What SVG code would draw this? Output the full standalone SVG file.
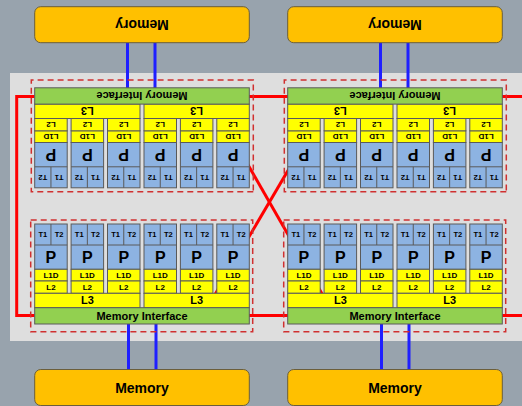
<svg xmlns="http://www.w3.org/2000/svg" width="522" height="406" viewBox="0 0 522 406">
<style>
.bg{fill:#98a3ad}
.panel{fill:#dedede}
.mem{fill:#ffc000;stroke:#6b5e3b;stroke-width:1}
.frame{fill:none;stroke:#d03030;stroke-width:1.5;stroke-dasharray:6 4}
.mi{fill:#92d050;stroke:#5a5a5a;stroke-width:1}
.y{fill:#ffff00;stroke:#5a5a5a;stroke-width:1}
.core{fill:#8db3e2;stroke:#5a5a5a;stroke-width:1}
.div{fill:none;stroke:#5a5a5a;stroke-width:1}
text{font-family:"Liberation Sans",Arial,sans-serif;font-weight:bold;text-anchor:middle;fill:#000}
.t{font-size:7.5px}
.p{font-size:16px}
.c{font-size:8px}
.l{font-size:11px}
.m{font-size:14px}
.link{fill:none;stroke:#ff0000;stroke-width:3}
.bus{stroke:#1f1fff;stroke-width:3}
</style>

<!-- backdrop -->
<rect class="bg" x="0" y="0" width="522" height="406"/>
<rect class="panel" x="10" y="73" width="512" height="268"/>

<!-- connectors: drawn first so the chips sit over them -->
<g id="connectors">
  <path class="link" d="M34.7 315.5 H16.7 V96.5 H34.7"/>
  <path class="link" d="M249 96.5 H288"/>
  <path class="link" d="M502 96.5 H522"/>
  <path class="link" d="M249 315.5 H288"/>
  <path class="link" d="M502 315.5 H522"/>
  <path class="link" d="M210 303 L322 112.8"/>
  <path class="link" d="M217.7 112 L327.3 303"/>
  <line class="bus" x1="127.5" y1="42.7" x2="127.5" y2="88.5"/>
  <line class="bus" x1="155" y1="42.7" x2="155" y2="88.5"/>
  <line class="bus" x1="380.5" y1="42.7" x2="380.5" y2="88.5"/>
  <line class="bus" x1="408" y1="42.7" x2="408" y2="88.5"/>
  <line class="bus" x1="128.5" y1="324" x2="128.5" y2="369.5"/>
  <line class="bus" x1="156" y1="324" x2="156" y2="369.5"/>
  <line class="bus" x1="381.5" y1="324" x2="381.5" y2="369.5"/>
  <line class="bus" x1="409" y1="324" x2="409" y2="369.5"/>
</g>

<!-- memory banks -->
<g id="memory-top-left">
  <rect class="mem" x="34.7" y="6.7" width="214.6" height="36" rx="6"/>
  <text class="m" x="142" y="29.7" transform="rotate(180 142 24.7)">Memory</text>
</g>
<g id="memory-top-right">
  <rect class="mem" x="287.7" y="6.7" width="214.6" height="36" rx="6"/>
  <text class="m" x="395" y="29.7" transform="rotate(180 395 24.7)">Memory</text>
</g>
<g id="memory-bottom-left">
  <rect class="mem" x="34.7" y="369.5" width="214.6" height="36" rx="6"/>
  <text class="m" x="142" y="392.5">Memory</text>
</g>
<g id="memory-bottom-right">
  <rect class="mem" x="287.7" y="369.5" width="214.6" height="36" rx="6"/>
  <text class="m" x="395" y="392.5">Memory</text>
</g>

<!-- processor chips: one layout, placed four times -->
<g id="chip-bottom-left">
  <rect class="frame" x="30.7" y="220" width="222" height="111.7"/>
  <rect class="core" x="34.7" y="224" width="32.5" height="45.3"/>
  <rect class="y" x="34.7" y="269.3" width="32.5" height="11.7"/>
  <rect class="y" x="34.7" y="281" width="32.5" height="12.3"/>
  <path class="div" d="M34.7 245 H67.2 M50.95 224 V245"/>
  <text class="t" x="42.8" y="237.2">T1</text><text class="t" x="59.1" y="237.2">T2</text>
  <text class="p" x="50.95" y="262.9">P</text><text class="c" x="50.95" y="278">L1D</text><text class="c" x="50.95" y="290">L2</text>
  <rect class="core" x="71.1" y="224" width="32.5" height="45.3"/>
  <rect class="y" x="71.1" y="269.3" width="32.5" height="11.7"/>
  <rect class="y" x="71.1" y="281" width="32.5" height="12.3"/>
  <path class="div" d="M71.1 245 H103.6 M87.35 224 V245"/>
  <text class="t" x="79.2" y="237.2">T1</text><text class="t" x="95.5" y="237.2">T2</text>
  <text class="p" x="87.35" y="262.9">P</text><text class="c" x="87.35" y="278">L1D</text><text class="c" x="87.35" y="290">L2</text>
  <rect class="core" x="107.5" y="224" width="32.5" height="45.3"/>
  <rect class="y" x="107.5" y="269.3" width="32.5" height="11.7"/>
  <rect class="y" x="107.5" y="281" width="32.5" height="12.3"/>
  <path class="div" d="M107.5 245 H140 M123.75 224 V245"/>
  <text class="t" x="115.6" y="237.2">T1</text><text class="t" x="131.9" y="237.2">T2</text>
  <text class="p" x="123.75" y="262.9">P</text><text class="c" x="123.75" y="278">L1D</text><text class="c" x="123.75" y="290">L2</text>
  <rect class="core" x="144" y="224" width="32.5" height="45.3"/>
  <rect class="y" x="144" y="269.3" width="32.5" height="11.7"/>
  <rect class="y" x="144" y="281" width="32.5" height="12.3"/>
  <path class="div" d="M144 245 H176.5 M160.25 224 V245"/>
  <text class="t" x="152.1" y="237.2">T1</text><text class="t" x="168.4" y="237.2">T2</text>
  <text class="p" x="160.25" y="262.9">P</text><text class="c" x="160.25" y="278">L1D</text><text class="c" x="160.25" y="290">L2</text>
  <rect class="core" x="180.4" y="224" width="32.5" height="45.3"/>
  <rect class="y" x="180.4" y="269.3" width="32.5" height="11.7"/>
  <rect class="y" x="180.4" y="281" width="32.5" height="12.3"/>
  <path class="div" d="M180.4 245 H212.9 M196.65 224 V245"/>
  <text class="t" x="188.5" y="237.2">T1</text><text class="t" x="204.8" y="237.2">T2</text>
  <text class="p" x="196.65" y="262.9">P</text><text class="c" x="196.65" y="278">L1D</text><text class="c" x="196.65" y="290">L2</text>
  <rect class="core" x="216.8" y="224" width="32.5" height="45.3"/>
  <rect class="y" x="216.8" y="269.3" width="32.5" height="11.7"/>
  <rect class="y" x="216.8" y="281" width="32.5" height="12.3"/>
  <path class="div" d="M216.8 245 H249.3 M233.05 224 V245"/>
  <text class="t" x="224.9" y="237.2">T1</text><text class="t" x="241.2" y="237.2">T2</text>
  <text class="p" x="233.05" y="262.9">P</text><text class="c" x="233.05" y="278">L1D</text><text class="c" x="233.05" y="290">L2</text>
  <rect class="y" x="34.7" y="293.3" width="105.3" height="14.4"/>
  <rect class="y" x="144" y="293.3" width="105.3" height="14.4"/>
  <text class="l" x="87.35" y="304.4">L3</text><text class="l" x="196.65" y="304.4">L3</text>
  <rect class="mi" x="34.7" y="307.7" width="214.6" height="16.3"/>
  <text class="l" x="142" y="319.8">Memory Interface</text>
</g>

<g id="chip-bottom-right" transform="translate(253 0)">
  <rect class="frame" x="30.7" y="220" width="222" height="111.7"/>
  <rect class="core" x="34.7" y="224" width="32.5" height="45.3"/>
  <rect class="y" x="34.7" y="269.3" width="32.5" height="11.7"/>
  <rect class="y" x="34.7" y="281" width="32.5" height="12.3"/>
  <path class="div" d="M34.7 245 H67.2 M50.95 224 V245"/>
  <text class="t" x="42.8" y="237.2">T1</text><text class="t" x="59.1" y="237.2">T2</text>
  <text class="p" x="50.95" y="262.9">P</text><text class="c" x="50.95" y="278">L1D</text><text class="c" x="50.95" y="290">L2</text>
  <rect class="core" x="71.1" y="224" width="32.5" height="45.3"/>
  <rect class="y" x="71.1" y="269.3" width="32.5" height="11.7"/>
  <rect class="y" x="71.1" y="281" width="32.5" height="12.3"/>
  <path class="div" d="M71.1 245 H103.6 M87.35 224 V245"/>
  <text class="t" x="79.2" y="237.2">T1</text><text class="t" x="95.5" y="237.2">T2</text>
  <text class="p" x="87.35" y="262.9">P</text><text class="c" x="87.35" y="278">L1D</text><text class="c" x="87.35" y="290">L2</text>
  <rect class="core" x="107.5" y="224" width="32.5" height="45.3"/>
  <rect class="y" x="107.5" y="269.3" width="32.5" height="11.7"/>
  <rect class="y" x="107.5" y="281" width="32.5" height="12.3"/>
  <path class="div" d="M107.5 245 H140 M123.75 224 V245"/>
  <text class="t" x="115.6" y="237.2">T1</text><text class="t" x="131.9" y="237.2">T2</text>
  <text class="p" x="123.75" y="262.9">P</text><text class="c" x="123.75" y="278">L1D</text><text class="c" x="123.75" y="290">L2</text>
  <rect class="core" x="144" y="224" width="32.5" height="45.3"/>
  <rect class="y" x="144" y="269.3" width="32.5" height="11.7"/>
  <rect class="y" x="144" y="281" width="32.5" height="12.3"/>
  <path class="div" d="M144 245 H176.5 M160.25 224 V245"/>
  <text class="t" x="152.1" y="237.2">T1</text><text class="t" x="168.4" y="237.2">T2</text>
  <text class="p" x="160.25" y="262.9">P</text><text class="c" x="160.25" y="278">L1D</text><text class="c" x="160.25" y="290">L2</text>
  <rect class="core" x="180.4" y="224" width="32.5" height="45.3"/>
  <rect class="y" x="180.4" y="269.3" width="32.5" height="11.7"/>
  <rect class="y" x="180.4" y="281" width="32.5" height="12.3"/>
  <path class="div" d="M180.4 245 H212.9 M196.65 224 V245"/>
  <text class="t" x="188.5" y="237.2">T1</text><text class="t" x="204.8" y="237.2">T2</text>
  <text class="p" x="196.65" y="262.9">P</text><text class="c" x="196.65" y="278">L1D</text><text class="c" x="196.65" y="290">L2</text>
  <rect class="core" x="216.8" y="224" width="32.5" height="45.3"/>
  <rect class="y" x="216.8" y="269.3" width="32.5" height="11.7"/>
  <rect class="y" x="216.8" y="281" width="32.5" height="12.3"/>
  <path class="div" d="M216.8 245 H249.3 M233.05 224 V245"/>
  <text class="t" x="224.9" y="237.2">T1</text><text class="t" x="241.2" y="237.2">T2</text>
  <text class="p" x="233.05" y="262.9">P</text><text class="c" x="233.05" y="278">L1D</text><text class="c" x="233.05" y="290">L2</text>
  <rect class="y" x="34.7" y="293.3" width="105.3" height="14.4"/>
  <rect class="y" x="144" y="293.3" width="105.3" height="14.4"/>
  <text class="l" x="87.35" y="304.4">L3</text><text class="l" x="196.65" y="304.4">L3</text>
  <rect class="mi" x="34.7" y="307.7" width="214.6" height="16.3"/>
  <text class="l" x="142" y="319.8">Memory Interface</text>
</g>

<g id="chip-top-left" transform="rotate(180 142 205.9)">
  <rect class="frame" x="30.7" y="220" width="222" height="111.7"/>
  <rect class="core" x="34.7" y="224" width="32.5" height="45.3"/>
  <rect class="y" x="34.7" y="269.3" width="32.5" height="11.7"/>
  <rect class="y" x="34.7" y="281" width="32.5" height="12.3"/>
  <path class="div" d="M34.7 245 H67.2 M50.95 224 V245"/>
  <text class="t" x="42.8" y="237.2">T1</text><text class="t" x="59.1" y="237.2">T2</text>
  <text class="p" x="50.95" y="262.9">P</text><text class="c" x="50.95" y="278">L1D</text><text class="c" x="50.95" y="290">L2</text>
  <rect class="core" x="71.1" y="224" width="32.5" height="45.3"/>
  <rect class="y" x="71.1" y="269.3" width="32.5" height="11.7"/>
  <rect class="y" x="71.1" y="281" width="32.5" height="12.3"/>
  <path class="div" d="M71.1 245 H103.6 M87.35 224 V245"/>
  <text class="t" x="79.2" y="237.2">T1</text><text class="t" x="95.5" y="237.2">T2</text>
  <text class="p" x="87.35" y="262.9">P</text><text class="c" x="87.35" y="278">L1D</text><text class="c" x="87.35" y="290">L2</text>
  <rect class="core" x="107.5" y="224" width="32.5" height="45.3"/>
  <rect class="y" x="107.5" y="269.3" width="32.5" height="11.7"/>
  <rect class="y" x="107.5" y="281" width="32.5" height="12.3"/>
  <path class="div" d="M107.5 245 H140 M123.75 224 V245"/>
  <text class="t" x="115.6" y="237.2">T1</text><text class="t" x="131.9" y="237.2">T2</text>
  <text class="p" x="123.75" y="262.9">P</text><text class="c" x="123.75" y="278">L1D</text><text class="c" x="123.75" y="290">L2</text>
  <rect class="core" x="144" y="224" width="32.5" height="45.3"/>
  <rect class="y" x="144" y="269.3" width="32.5" height="11.7"/>
  <rect class="y" x="144" y="281" width="32.5" height="12.3"/>
  <path class="div" d="M144 245 H176.5 M160.25 224 V245"/>
  <text class="t" x="152.1" y="237.2">T1</text><text class="t" x="168.4" y="237.2">T2</text>
  <text class="p" x="160.25" y="262.9">P</text><text class="c" x="160.25" y="278">L1D</text><text class="c" x="160.25" y="290">L2</text>
  <rect class="core" x="180.4" y="224" width="32.5" height="45.3"/>
  <rect class="y" x="180.4" y="269.3" width="32.5" height="11.7"/>
  <rect class="y" x="180.4" y="281" width="32.5" height="12.3"/>
  <path class="div" d="M180.4 245 H212.9 M196.65 224 V245"/>
  <text class="t" x="188.5" y="237.2">T1</text><text class="t" x="204.8" y="237.2">T2</text>
  <text class="p" x="196.65" y="262.9">P</text><text class="c" x="196.65" y="278">L1D</text><text class="c" x="196.65" y="290">L2</text>
  <rect class="core" x="216.8" y="224" width="32.5" height="45.3"/>
  <rect class="y" x="216.8" y="269.3" width="32.5" height="11.7"/>
  <rect class="y" x="216.8" y="281" width="32.5" height="12.3"/>
  <path class="div" d="M216.8 245 H249.3 M233.05 224 V245"/>
  <text class="t" x="224.9" y="237.2">T1</text><text class="t" x="241.2" y="237.2">T2</text>
  <text class="p" x="233.05" y="262.9">P</text><text class="c" x="233.05" y="278">L1D</text><text class="c" x="233.05" y="290">L2</text>
  <rect class="y" x="34.7" y="293.3" width="105.3" height="14.4"/>
  <rect class="y" x="144" y="293.3" width="105.3" height="14.4"/>
  <text class="l" x="87.35" y="304.4">L3</text><text class="l" x="196.65" y="304.4">L3</text>
  <rect class="mi" x="34.7" y="307.7" width="214.6" height="16.3"/>
  <text class="l" x="142" y="319.8">Memory Interface</text>
</g>

<g id="chip-top-right" transform="translate(253 0) rotate(180 142 205.9)">
  <rect class="frame" x="30.7" y="220" width="222" height="111.7"/>
  <rect class="core" x="34.7" y="224" width="32.5" height="45.3"/>
  <rect class="y" x="34.7" y="269.3" width="32.5" height="11.7"/>
  <rect class="y" x="34.7" y="281" width="32.5" height="12.3"/>
  <path class="div" d="M34.7 245 H67.2 M50.95 224 V245"/>
  <text class="t" x="42.8" y="237.2">T1</text><text class="t" x="59.1" y="237.2">T2</text>
  <text class="p" x="50.95" y="262.9">P</text><text class="c" x="50.95" y="278">L1D</text><text class="c" x="50.95" y="290">L2</text>
  <rect class="core" x="71.1" y="224" width="32.5" height="45.3"/>
  <rect class="y" x="71.1" y="269.3" width="32.5" height="11.7"/>
  <rect class="y" x="71.1" y="281" width="32.5" height="12.3"/>
  <path class="div" d="M71.1 245 H103.6 M87.35 224 V245"/>
  <text class="t" x="79.2" y="237.2">T1</text><text class="t" x="95.5" y="237.2">T2</text>
  <text class="p" x="87.35" y="262.9">P</text><text class="c" x="87.35" y="278">L1D</text><text class="c" x="87.35" y="290">L2</text>
  <rect class="core" x="107.5" y="224" width="32.5" height="45.3"/>
  <rect class="y" x="107.5" y="269.3" width="32.5" height="11.7"/>
  <rect class="y" x="107.5" y="281" width="32.5" height="12.3"/>
  <path class="div" d="M107.5 245 H140 M123.75 224 V245"/>
  <text class="t" x="115.6" y="237.2">T1</text><text class="t" x="131.9" y="237.2">T2</text>
  <text class="p" x="123.75" y="262.9">P</text><text class="c" x="123.75" y="278">L1D</text><text class="c" x="123.75" y="290">L2</text>
  <rect class="core" x="144" y="224" width="32.5" height="45.3"/>
  <rect class="y" x="144" y="269.3" width="32.5" height="11.7"/>
  <rect class="y" x="144" y="281" width="32.5" height="12.3"/>
  <path class="div" d="M144 245 H176.5 M160.25 224 V245"/>
  <text class="t" x="152.1" y="237.2">T1</text><text class="t" x="168.4" y="237.2">T2</text>
  <text class="p" x="160.25" y="262.9">P</text><text class="c" x="160.25" y="278">L1D</text><text class="c" x="160.25" y="290">L2</text>
  <rect class="core" x="180.4" y="224" width="32.5" height="45.3"/>
  <rect class="y" x="180.4" y="269.3" width="32.5" height="11.7"/>
  <rect class="y" x="180.4" y="281" width="32.5" height="12.3"/>
  <path class="div" d="M180.4 245 H212.9 M196.65 224 V245"/>
  <text class="t" x="188.5" y="237.2">T1</text><text class="t" x="204.8" y="237.2">T2</text>
  <text class="p" x="196.65" y="262.9">P</text><text class="c" x="196.65" y="278">L1D</text><text class="c" x="196.65" y="290">L2</text>
  <rect class="core" x="216.8" y="224" width="32.5" height="45.3"/>
  <rect class="y" x="216.8" y="269.3" width="32.5" height="11.7"/>
  <rect class="y" x="216.8" y="281" width="32.5" height="12.3"/>
  <path class="div" d="M216.8 245 H249.3 M233.05 224 V245"/>
  <text class="t" x="224.9" y="237.2">T1</text><text class="t" x="241.2" y="237.2">T2</text>
  <text class="p" x="233.05" y="262.9">P</text><text class="c" x="233.05" y="278">L1D</text><text class="c" x="233.05" y="290">L2</text>
  <rect class="y" x="34.7" y="293.3" width="105.3" height="14.4"/>
  <rect class="y" x="144" y="293.3" width="105.3" height="14.4"/>
  <text class="l" x="87.35" y="304.4">L3</text><text class="l" x="196.65" y="304.4">L3</text>
  <rect class="mi" x="34.7" y="307.7" width="214.6" height="16.3"/>
  <text class="l" x="142" y="319.8">Memory Interface</text>
</g>
</svg>
